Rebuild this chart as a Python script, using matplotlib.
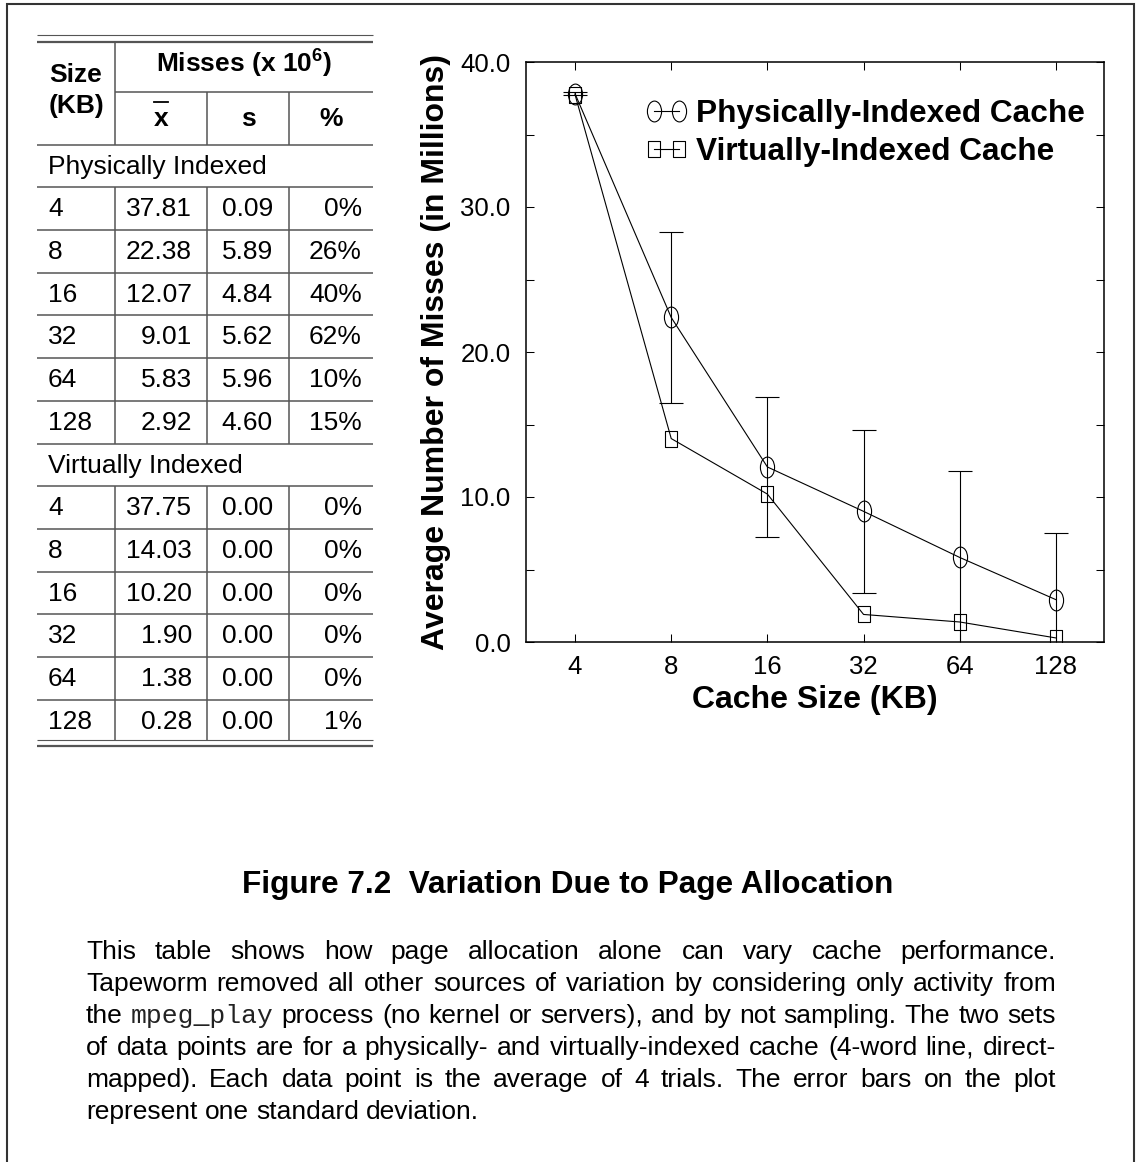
import matplotlib
matplotlib.use('Agg')
import matplotlib.pyplot as plt
from matplotlib.path import Path
from matplotlib.transforms import Affine2D
from matplotlib.lines import Line2D
from matplotlib.ticker import MultipleLocator, NullLocator, FormatStrFormatter

plt.rcParams['font.family'] = ['Liberation Sans', 'DejaVu Sans']
plt.rcParams['mathtext.fontset'] = 'custom'
plt.rcParams['mathtext.rm'] = 'Liberation Sans'
plt.rcParams['mathtext.bf'] = 'Liberation Sans:bold'

# cache sizes (KB) and misses (millions), 4 trials each
sizes = [4, 8, 16, 32, 64, 128]
phys_mean = [37.81, 22.38, 12.07, 9.01, 5.83, 2.92]
phys_sd = [0.09, 5.89, 4.84, 5.62, 5.96, 4.60]
phys_pct = ['0%', '26%', '40%', '62%', '10%', '15%']
virt_mean = [37.75, 14.03, 10.20, 1.90, 1.38, 0.28]
virt_sd = [0.00, 0.00, 0.00, 0.00, 0.00, 0.00]
virt_pct = ['0%', '0%', '0%', '0%', '0%', '1%']
groups = ['Physically Indexed', 'Virtually Indexed']
series = ['Physically-Indexed Cache', 'Virtually-Indexed Cache']

title = 'Figure 7.2  Variation Due to Page Allocation'
caption = [
    'This table shows how page allocation alone can vary cache performance.',
    'Tapeworm removed all other sources of variation by considering only activity from',
    'the mpeg_play process (no kernel or servers), and by not sampling. The two sets',
    'of data points are for a physically- and virtually-indexed cache (4-word line, direct-',
    'mapped). Each data point is the average of 4 trials. The error bars on the plot',
    'represent one standard deviation.',
]

W, H = 1136, 1162
fig = plt.figure(figsize=(W / 100, H / 100), dpi=100)

# page layer in pixel units (y down)
bg = fig.add_axes([0, 0, 1, 1])
bg.set_xlim(0, W)
bg.set_ylim(H, 0)
bg.axis('off')

bg.plot([7, 7, 1134, 1134], [H + 10, 4, 4, H + 10], color='#333333', lw=1.5,
        solid_joinstyle='miter', clip_on=False)

# ---- table ----
gray = '#555555'
FS = 19
L, R = 37, 373


def hline(y, lw=1.1, x0=L, x1=R):
    bg.plot([x0, x1], [y, y], color=gray, lw=lw, solid_capstyle='butt')


def vline(x, y0, y1, lw=1.1):
    bg.plot([x, x], [y0, y1], color=gray, lw=lw, solid_capstyle='butt')


hline(35, 0.8)
hline(42, 1.6)
hline(92, x0=115)
hline(145)
vline(115, 42, 145)
vline(207, 92, 145)
vline(289, 92, 145)

bg.text(76, 82, 'Size', ha='center', va='baseline', fontsize=FS, fontweight='bold')
bg.text(76, 113, '(KB)', ha='center', va='baseline', fontsize=FS, fontweight='bold')
bg.text(244, 72, r'Misses (x 10$^{\mathbf{6}}$)', ha='center', va='baseline',
        fontsize=FS, fontweight='bold')
bg.text(161, 126, 'x', ha='center', va='baseline', fontsize=FS, fontweight='bold')
bg.plot([154, 168], [101.5, 101.5], color='black', lw=1.3)
bg.text(248, 126, 's', ha='center', va='baseline', fontsize=FS, fontweight='bold')
bg.text(331, 126, '%', ha='center', va='baseline', fontsize=FS, fontweight='bold')

bg.text(48, 174, groups[0], va='baseline', fontsize=FS)

top = 187.3
rh = 42.7
blocks = [(phys_mean, phys_sd, phys_pct), (virt_mean, virt_sd, virt_pct)]
for b, (mean, sd, pct) in enumerate(blocks):
    y0 = top + b * 7 * rh
    for i in range(len(sizes)):
        yl = y0 + i * rh
        hline(yl)
        yb = yl + 29
        bg.text(48, yb, str(sizes[i]), va='baseline', fontsize=FS)
        bg.text(192, yb, f'{mean[i]:.2f}', ha='right', va='baseline', fontsize=FS)
        bg.text(273, yb, f'{sd[i]:.2f}', ha='right', va='baseline', fontsize=FS)
        bg.text(362, yb, pct[i], ha='right', va='baseline', fontsize=FS)
    y_end = y0 + len(sizes) * rh if b == 0 else 739.5
    for x in (115, 207, 289):
        vline(x, y0, y_end)
    if b == 0:
        hline(y_end)
        bg.text(48, y_end + 29, groups[1], va='baseline', fontsize=FS)
hline(739.5, 0.8)
hline(745.5, 1.6)

# ---- plot ----
ax = fig.add_axes([526 / W, 1 - 642 / H, 578 / W, 580 / H])

ellipse = Path.unit_circle().transformed(Affine2D().scale(0.68, 1.0))
box = Path([(-0.38, -0.5), (0.38, -0.5), (0.38, 0.5), (-0.38, 0.5), (-0.38, -0.5)],
           [Path.MOVETO, Path.LINETO, Path.LINETO, Path.LINETO, Path.CLOSEPOLY])

ax.errorbar(sizes, phys_mean, yerr=phys_sd, color='black', lw=0.8,
            marker=ellipse, ms=15, mfc='none', mec='black', mew=0.8,
            elinewidth=0.8, capsize=8.6, capthick=0.8)
ax.plot(sizes, virt_mean, color='black', lw=0.8,
        marker=box, ms=17 / 1.389, mfc='none', mec='black', mew=0.8)

ax.set_xscale('log', base=2)
ax.set_xlim(4 / 2 ** 0.51, 128 * 2 ** 0.5)
ax.set_ylim(0, 40)
ax.set_xticks(sizes)
ax.set_xticklabels([str(s) for s in sizes])
ax.xaxis.set_minor_locator(NullLocator())
ax.set_yticks([0, 10, 20, 30, 40])
ax.yaxis.set_minor_locator(MultipleLocator(5))
ax.yaxis.set_major_formatter(FormatStrFormatter('%.1f'))
ax.tick_params(which='both', direction='in', top=True, right=True,
               length=5.8, width=0.75, labelsize=18.5)
ax.tick_params(axis='y', pad=11)
ax.tick_params(axis='x', pad=9)
for sp in ax.spines.values():
    sp.set_linewidth(1.1)

ax.set_ylabel('Average Number of Misses (in Millions)', fontsize=23, fontweight='bold')
ax.yaxis.label.set_va('center')
ax.yaxis.set_label_coords(-0.156, 0.5)
ax.set_xlabel('Cache Size (KB)', fontsize=23, fontweight='bold')
ax.xaxis.label.set_va('baseline')
ax.xaxis.set_label_coords(0.5, (642 - 708) / 580)

handles = [
    Line2D([], [], color='black', lw=0.8, marker=ellipse, ms=15, mfc='none', mew=0.8),
    Line2D([], [], color='black', lw=0.8, marker=box, ms=17 / 1.389, mfc='none', mew=0.8),
]
ax.legend(handles, series, loc='upper left', bbox_to_anchor=(644 / W, 1 - 99 / H),
          bbox_transform=fig.transFigure, frameon=False, borderpad=0, borderaxespad=0,
          handlelength=1.4, handletextpad=0.25, labelspacing=0.26, numpoints=2,
          prop={'family': 'Liberation Sans', 'weight': 'bold', 'size': 22.8})

# ---- caption ----
bg.text(568, 893, title, ha='center', va='baseline', fontsize=22.7, fontweight='bold')

renderer = fig.canvas.get_renderer()
x0, x1 = 86, 1056
y = 959
for n, line in enumerate(caption):
    words = line.split(' ')
    texts = []
    for w in words:
        fam = 'Liberation Mono' if w == 'mpeg_play' else 'Liberation Sans'
        fs = 19 if w == 'mpeg_play' else FS
        texts.append(bg.text(0, y, w, va='baseline', fontsize=fs, family=fam,
                             color='#222222' if w == 'mpeg_play' else 'black'))
    widths = [t.get_window_extent(renderer).width for t in texts]
    if n == len(caption) - 1:
        gap = 7.3
    else:
        gap = (x1 - x0 - sum(widths)) / (len(words) - 1)
    x = x0
    for t, w in zip(texts, widths):
        t.set_x(x)
        x += w + gap
    y += 32

fig.savefig('out.png', dpi=100)
